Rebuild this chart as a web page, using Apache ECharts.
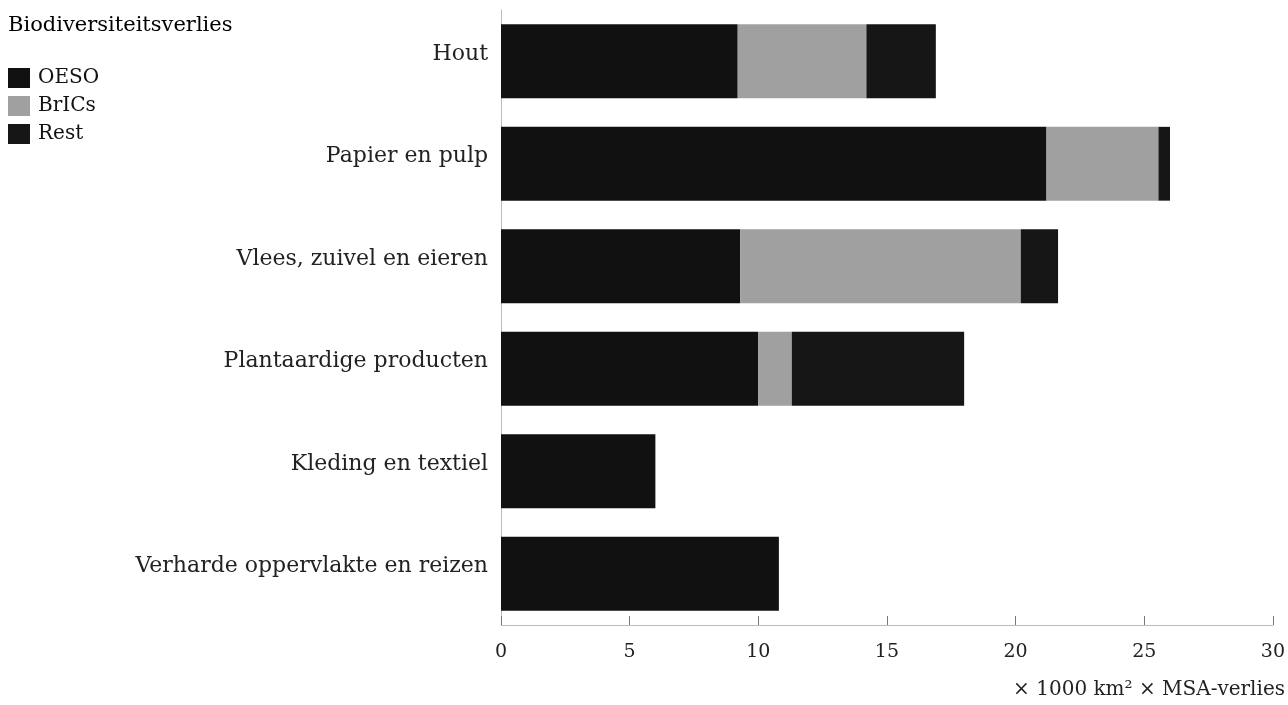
<!DOCTYPE html>
<html><head><meta charset="utf-8">
<script src="https://cdn.jsdelivr.net/npm/echarts@6/dist/echarts.min.js"></script>
<style>html,body{margin:0;padding:0;background:#fff}#c{width:1288px;height:705px}</style>
</head><body><div id="c"></div>
<script>
const categories = ["Hout", "Papier en pulp", "Vlees, zuivel en eieren", "Plantaardige producten", "Kleding en textiel", "Verharde oppervlakte en reizen"];
const oeso = [9.2, 21.2, 9.3, 10.0, 6.0, 10.8];
const brics = [5.0, 4.35, 10.9, 1.3, 0, 0];
const rest = [2.7, 0.45, 1.45, 6.7, 0, 0];
const xTicks = [0, 5, 10, 15, 20, 25, 30];
const axisName = '× 1000 km² × MSA-verlies';
const FONT = "DejaVu Serif";
const chart = echarts.init(document.getElementById('c'), null, {renderer: 'canvas'});
chart.setOption({
  animation: false,
  backgroundColor: '#fff',
  textStyle: {fontFamily: FONT},
  title: {text: 'Biodiversiteitsverlies', left: 8, top: 15, padding: 0, textStyle: {fontFamily: FONT, fontSize: 21, fontWeight: 'normal', color: '#000'}},
  legend: {orient: 'vertical', left: 8, top: 68, padding: 0, itemWidth: 22, itemHeight: 20, itemGap: 8, icon: 'rect',
    textStyle: {fontFamily: FONT, fontSize: 20, color: '#111', padding: [0, 0, 0, 3]}, data: ['OESO', 'BrICs', 'Rest']},
  grid: {left: 501, right: 13, top: 10, bottom: 80, containLabel: false},
  xAxis: {type: 'value', min: xTicks[0], max: xTicks[xTicks.length - 1], interval: 5,
    axisLine: {show: true, onZero: false, lineStyle: {color: '#bbb'}},
    axisTick: {show: true, inside: false, length: -9, lineStyle: {color: '#777', width: 1}},
    splitLine: {show: false},
    axisLabel: {fontFamily: FONT, fontSize: 19, color: '#222', margin: 18}},
  yAxis: {type: 'category', data: categories, inverse: true,
    axisLine: {show: true, lineStyle: {color: '#bbb'}},
    axisTick: {show: false},
    axisLabel: {fontFamily: FONT, fontSize: 22, color: '#222', margin: 13, verticalAlign: 'bottom', lineHeight: 14}},
  graphic: [{type: 'text', right: 3, top: 680, style: {text: axisName, fontFamily: FONT, fontSize: 20, fill: '#222'}}],
  series: [
    {name: 'OESO', type: 'bar', stack: 't', data: oeso, barWidth: '72%', itemStyle: {color: '#111'}},
    {name: 'BrICs', type: 'bar', stack: 't', data: brics, itemStyle: {color: '#a0a0a0'}},
    {name: 'Rest', type: 'bar', stack: 't', data: rest, itemStyle: {color: '#161616'}}
  ]
});
</script></body></html>
